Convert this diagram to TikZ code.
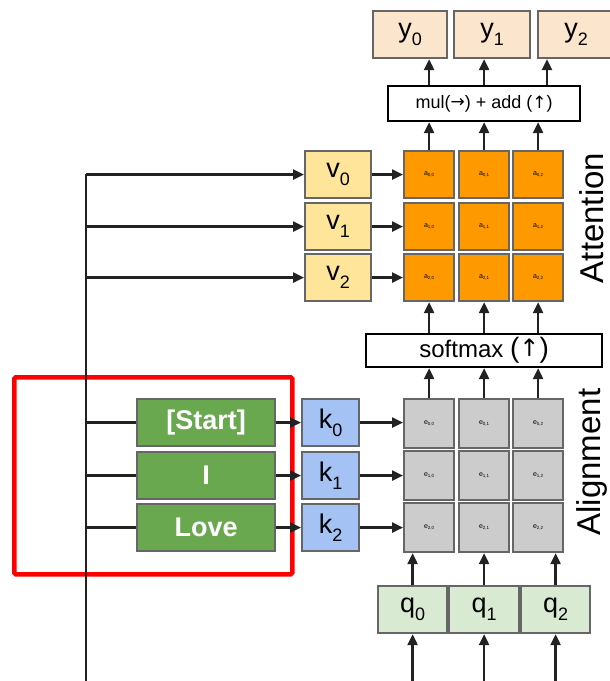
\documentclass[tikz,border=0pt]{standalone}
\usepackage{fontspec}
\setmainfont{Liberation Sans}
\newfontfamily\symfont{DejaVu Sans}
\usetikzlibrary{arrows.meta,calc}
\definecolor{cy}{HTML}{FCE5CD}
\definecolor{cv}{HTML}{FFE599}
\definecolor{ca}{HTML}{FF9900}
\definecolor{ce}{HTML}{CCCCCC}
\definecolor{ck}{HTML}{A4C2F4}
\definecolor{cg}{HTML}{6AA84F}
\definecolor{cq}{HTML}{D9EAD3}
\definecolor{cb}{HTML}{666666}
\definecolor{cl}{HTML}{222222}
\newcommand\lbl[2]{\fontsize{27pt}{27pt}\selectfont #1\raisebox{-8pt}{\fontsize{18pt}{18pt}\selectfont #2}}
\newcommand\clbl[2]{\fontsize{7pt}{7pt}\selectfont #1\raisebox{-1.5pt}{\fontsize{4.5pt}{4.5pt}\selectfont #2}}
\begin{document}
\begin{tikzpicture}[x=1pt,y=-1pt,
  box/.style={draw=cb,line width=2.2pt,inner sep=0pt,anchor=north west},
  opbox/.style={draw=black,line width=2.2pt,fill=white,inner sep=0pt,anchor=north west},
  conn/.style={draw=cl,line width=2.4pt},
  arr/.style={conn,-{Triangle[length=11pt,width=10pt]}}
]
\useasboundingbox (0,0) rectangle (610,681);
% y boxes
\node[box,fill=cy,minimum width=74pt,minimum height=47pt] (y0) at (372,10) {\lbl{y}{0}};
\node[box,fill=cy,minimum width=76pt,minimum height=47pt] (y1) at (453,10) {\lbl{y}{1}};
\node[box,fill=cy,minimum width=76pt,minimum height=47pt] (y2) at (537,10) {\lbl{y}{2}};
% mul box
\node[opbox,minimum width=192pt,minimum height=35pt] (mul) at (387,85) {\fontsize{18pt}{18pt}\selectfont mul(\raisebox{0.5pt}{\symfont\fontsize{17pt}{17pt}\selectfont →}) + add ({\symfont\fontsize{17pt}{17pt}\selectfont ↑})};
% v boxes
\foreach \i/\yy in {0/150,1/202,2/253}{
  \node[box,fill=cv,minimum width=66pt,minimum height=47pt] (v\i) at (304,\yy) {\lbl{v}{\i}};
}
% a cells
\foreach \i/\yy in {0/150,1/202,2/253}{
  \foreach \j/\xx in {0/403,1/458,2/512}{
    \node[box,fill=ca,minimum width=50pt,minimum height=47pt] (a\i\j) at (\xx,\yy) {\clbl{a}{\i,\j}};
  }
}
% softmax
\node[opbox,minimum width=236pt,minimum height=33pt] (sm) at (365,333) {\fontsize{24pt}{24pt}\selectfont softmax \fontsize{28pt}{28pt}\selectfont(\raisebox{1pt}{\symfont\fontsize{24pt}{24pt}\selectfont ↑})};
% e cells
\foreach \i/\yy in {0/398,1/450,2/502}{
  \foreach \j/\xx in {0/403,1/458,2/512}{
    \node[box,fill=ce,minimum width=50pt,minimum height=49pt] (e\i\j) at (\xx,\yy) {\clbl{e}{\i,\j}};
  }
}
% k boxes and green boxes
\foreach \i/\yy/\w in {0/398/{[Start]},1/451/I,2/503/Love}{
  \node[box,fill=ck,minimum width=57pt,minimum height=47pt] (k\i) at (301,\yy) {\lbl{k}{\i}};
  \node[box,fill=cg,minimum width=138pt,minimum height=47pt,text=white,font=\bfseries\fontsize{27pt}{27pt}\selectfont] (s\i) at (136,\yy) {\w};
}
% q boxes
\node[box,fill=cq,minimum width=69pt,minimum height=47pt] (q0) at (377,585) {\lbl{q}{0}};
\node[box,fill=cq,minimum width=70pt,minimum height=47pt] (q1) at (448,585) {\lbl{q}{1}};
\node[box,fill=cq,minimum width=69pt,minimum height=47pt] (q2) at (520,585) {\lbl{q}{2}};
% side labels
\node[rotate=90,font=\fontsize{33pt}{33pt}\selectfont,inner sep=0pt] (att) at (592,218) {Attention};
\node[rotate=90,font=\fontsize{33pt}{33pt}\selectfont,inner sep=0pt] (ali) at (592,462) {Alignment};
% red frame
\node[draw=red,line width=4.5pt,rounded corners=1.5pt,minimum width=278pt,minimum height=197pt,anchor=north west,inner sep=0pt] (frame) at (12,375) {};
% connectors
\coordinate (top) at (86,174);
\coordinate (bot) at (86,681);
\coordinate (t2) at (547,0);
\draw[conn] (top) -- (bot);
\foreach \i in {0,1,2}{
  \draw[arr] (top |- v\i.west) -- (v\i.west);
  \draw[arr] (v\i.east) -- (v\i.east -| a\i0.west);
  \draw[conn] (top |- s\i.west) -- (s\i.west);
  \draw[arr] (s\i.east) -- (s\i.east -| k\i.west);
  \draw[arr] (k\i.east) -- (k\i.east -| e\i0.west);
  \draw[arr] (a0\i.north) -- (a0\i.north |- mul.south);
  \draw[arr] (a2\i.south |- sm.north) -- (a2\i.south);
  \draw[arr] (e0\i.north) -- (e0\i.north |- sm.south);
  \draw[arr] (q\i.north) -- (q\i.north |- e20.south);
  \draw[arr] (q\i.south |- bot) -- (q\i.south);
}
\draw[arr] (a00 |- mul.north) -- (a00 |- y0.south);
\draw[arr] (a01 |- mul.north) -- (a01 |- y1.south);
\draw[arr] (t2 |- mul.north) -- (t2 |- y2.south);
\end{tikzpicture}
\end{document}
